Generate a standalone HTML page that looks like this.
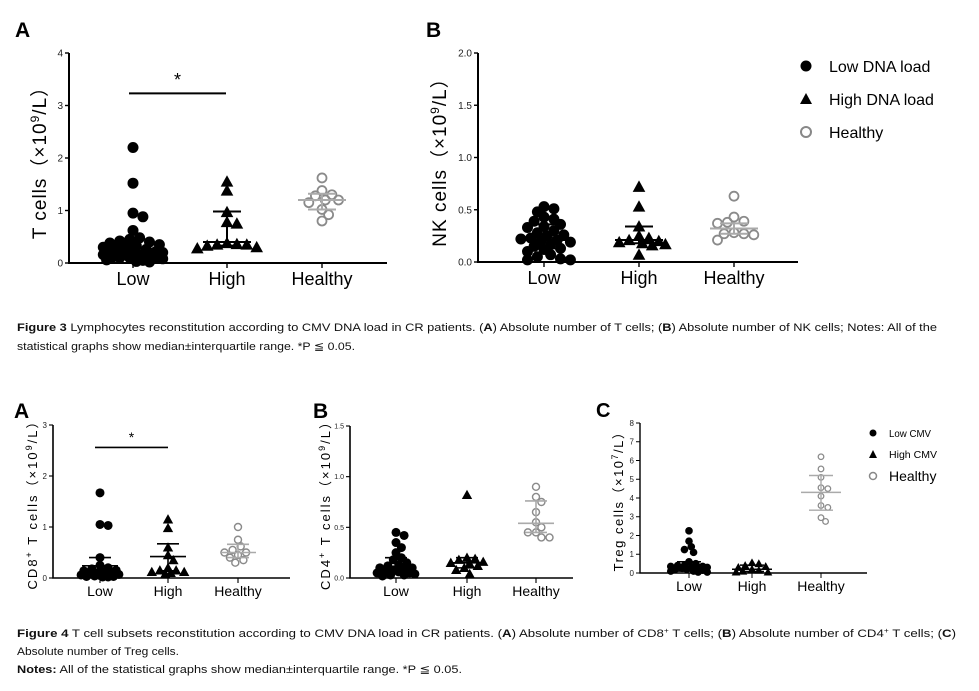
<!DOCTYPE html>
<html><head><meta charset="utf-8"><style>
html,body{margin:0;padding:0;background:#fff;}
svg{display:block;font-family:"Liberation Sans",sans-serif;}
</style></head><body>
<svg id="fig" width="979" height="691" viewBox="0 0 979 691" xmlns="http://www.w3.org/2000/svg">
<text x="15" y="37" font-size="21" font-weight="bold">A</text>
<text x="426" y="37" font-size="21" font-weight="bold">B</text>
<text x="14" y="418" font-size="21" font-weight="bold">A</text>
<text x="313" y="418" font-size="21" font-weight="bold">B</text>
<text x="596" y="417" font-size="20" font-weight="bold">C</text>

<g font-size="11" fill="#111">
<text x="17" y="331" textLength="920" lengthAdjust="spacingAndGlyphs"><tspan font-weight="bold">Figure 3</tspan> Lymphocytes reconstitution according to CMV DNA load in CR patients. (<tspan font-weight="bold">A</tspan>) Absolute number of T cells; (<tspan font-weight="bold">B</tspan>) Absolute number of NK cells; Notes: All of the</text>
<text x="17" y="350" textLength="338" lengthAdjust="spacingAndGlyphs">statistical graphs show median±interquartile range. *P ≦ 0.05.</text>
</g>
<g font-size="11" fill="#111">
<text x="17" y="637" textLength="939" lengthAdjust="spacingAndGlyphs"><tspan font-weight="bold">Figure 4</tspan> T cell subsets reconstitution according to CMV DNA load in CR patients. (<tspan font-weight="bold">A</tspan>) Absolute number of CD8<tspan font-size="7" dy="-4">+</tspan><tspan dy="4"> T cells; (</tspan><tspan font-weight="bold">B</tspan>) Absolute number of CD4<tspan font-size="7" dy="-4">+</tspan><tspan dy="4"> T cells; (</tspan><tspan font-weight="bold">C</tspan>)</text>
<text x="17" y="655" textLength="162" lengthAdjust="spacingAndGlyphs">Absolute number of Treg cells.</text>
<text x="17" y="673" textLength="445" lengthAdjust="spacingAndGlyphs"><tspan font-weight="bold">Notes:</tspan> All of the statistical graphs show median±interquartile range. *P ≦ 0.05.</text>
</g>

<g font-size="16">
<circle cx="806" cy="66" r="5.5" fill="#000"/><text x="829" y="72">Low DNA load</text>
<path d="M806,93 L812,104 L800,104 Z" fill="#000"/><text x="829" y="105">High DNA load</text>
<circle cx="806" cy="132" r="5" fill="none" stroke="#888" stroke-width="2"/><text x="829" y="138">Healthy</text>
</g>
<g>
<circle cx="873" cy="433" r="3.5" fill="#000"/><text x="889" y="437" font-size="10" textLength="42" lengthAdjust="spacingAndGlyphs">Low CMV</text>
<path d="M873,450 L877,458 L869,458 Z" fill="#000"/><text x="889" y="458" font-size="10" textLength="48" lengthAdjust="spacingAndGlyphs">High CMV</text>
<circle cx="873" cy="476" r="3.5" fill="none" stroke="#888" stroke-width="1.5"/><text x="889" y="481" font-size="14">Healthy</text>
</g>
</svg>
<script>
// ---- data ----
const categories = ["Low","High","Healthy"];
// Fig 3A T cells
const tLow = [2.2,1.52,0.95,0.88,0.62,0.48,0.45,0.42,0.4,0.38,0.35,0.33,0.3,0.28,0.26,0.25,0.22,0.2,0.18,0.16,0.14,0.12,0.1,0.1,0.08,0.06,0.05,0.03,0.02,0.15,0.3,0.2,0.1];
const tHigh = [1.55,1.38,0.97,0.78,0.75,0.38,0.36,0.35,0.33,0.3,0.28,0.35];
const tHealthy = [1.62,1.38,1.3,1.28,1.2,1.2,1.15,1.02,0.92,0.8];
const tStats = [[0.15,0.27,0.45],[0.33,0.4,0.98],[1.02,1.2,1.32]];
const tTicks = ["0","1","2","3","4"];
// Fig 3B NK cells
const nkLow = [0.53,0.51,0.48,0.43,0.41,0.39,0.36,0.34,0.33,0.3,0.28,0.26,0.25,0.23,0.22,0.21,0.2,0.19,0.17,0.15,0.13,0.12,0.1,0.07,0.05,0.03,0.02,0.02];
const nkHigh = [0.72,0.53,0.34,0.25,0.23,0.21,0.2,0.19,0.18,0.17,0.16,0.07];
const nkHealthy = [0.63,0.43,0.39,0.38,0.37,0.28,0.27,0.27,0.26,0.21];
const nkStats = [[0.13,0.21,0.36],[0.18,0.21,0.34],[0.27,0.32,0.37]];
const nkTicks = ["0.0","0.5","1.0","1.5","2.0"];
// Fig 4A CD8
const cd8Low = [1.67,1.05,1.03,0.4,0.25,0.2,0.15,0.12,0.1,0.08,0.06,0.05,0.04,0.03,0.02,0.1,0.05,0.07,0.02,0.03,0.14,0.18];
const cd8High = [1.15,0.98,0.6,0.45,0.35,0.2,0.15,0.15,0.12,0.12,0.1,0.08];
const cd8Healthy = [1.0,0.75,0.62,0.55,0.5,0.5,0.45,0.4,0.35,0.3];
const cd8Stats = [[0.05,0.24,0.4],[0.14,0.42,0.67],[0.4,0.5,0.66]];
const cd8Ticks = ["0","1","2","3"];
// Fig 4B CD4
const cd4Low = [0.45,0.42,0.35,0.3,0.25,0.2,0.18,0.15,0.12,0.1,0.08,0.07,0.05,0.04,0.03,0.02,0.05,0.1,0.03,0.06,0.13,0.09];
const cd4High = [0.82,0.2,0.19,0.18,0.16,0.15,0.14,0.12,0.1,0.08,0.04];
const cd4Healthy = [0.9,0.8,0.75,0.65,0.55,0.5,0.45,0.45,0.4,0.4];
const cd4Stats = [[0.04,0.1,0.2],[0.1,0.15,0.2],[0.45,0.54,0.76]];
const cd4Ticks = ["0.0","0.5","1.0","1.5"];
// Fig 4C Treg
const tregLow = [2.25,1.7,1.4,1.25,1.1,0.6,0.5,0.4,0.35,0.3,0.3,0.25,0.2,0.15,0.1,0.05,0.05,0.1,0.2,0.3,0.35,0.4];
const tregHigh = [0.55,0.5,0.4,0.35,0.3,0.2,0.15,0.1,0.05,0.05];
const tregHealthy = [6.2,5.55,5.1,4.55,4.5,4.1,3.6,3.5,2.95,2.75];
const tregStats = [[0.1,0.3,0.6],[0.08,0.2,0.42],[3.35,4.3,5.2]];
const tregTicks = ["0","1","2","3","4","5","6","7","8"];

const NS="http://www.w3.org/2000/svg";
const svg=document.getElementById('fig');
function mk(tag,attrs,parent){const e=document.createElementNS(NS,tag);for(const k in attrs)e.setAttribute(k,attrs[k]);(parent||svg).appendChild(e);return e;}

function panel(cfg){
  const g=mk('g',{});
  
  
  const ymax=parseFloat(cfg.ticks[cfg.ticks.length-1]);
  const yS=v=>cfg.y0-(v/ymax)*(cfg.y0-cfg.yTop);
  const xS=i=>cfg.cx[i];
  const ax=mk('path',{d:`M${cfg.ax},${cfg.yTop} L${cfg.ax},${cfg.y0} L${cfg.xEnd},${cfg.y0}`,fill:'none',stroke:'#000','stroke-width':cfg.lw},g);
  
  
  cfg.ticks.forEach(t=>{
    const y=yS(parseFloat(t));
    mk('line',{x1:cfg.ax-4,x2:cfg.ax,y1:y,y2:y,stroke:'#000','stroke-width':cfg.lw*0.7},g);
    const tx=mk('text',{x:cfg.ax-6,y:y+cfg.tfs*0.35,'font-size':cfg.tfs,'text-anchor':'end',fill:'#222'},g);
    tx.textContent=t;
    
    
  });
  categories.forEach((c,i)=>{
    mk('line',{x1:xS(i),x2:xS(i),y1:cfg.y0,y2:cfg.y0+5,stroke:'#000','stroke-width':cfg.lw*0.7},g);
    const tx=mk('text',{x:xS(i),y:cfg.y0+cfg.cfs+4,'font-size':cfg.cfs,'text-anchor':'middle'},g);
    tx.textContent=c;
    
    
  });
  const yt=mk('text',{transform:`translate(${cfg.ytx},${(cfg.y0+cfg.yTop)/2}) rotate(-90)`,'font-size':cfg.yfs,'text-anchor':'middle','letter-spacing':cfg.ls||0},g);
  yt.innerHTML=cfg.ytitle;
  
  
  const r=cfg.r;
  cfg.series.forEach((vals,i)=>{
    const placed=[];
    const sorted=vals.slice().sort((a,b)=>b-a);
    const maxS=cfg.spread[i];
    sorted.forEach(v=>{
      const y=yS(v);
      let best=0,bestD=-1;
      for(let k=0;k<80;k++){
        const o=(k===0?0:(k%2?1:-1)*Math.ceil(k/2))*r*0.6;
        if(Math.abs(o)>maxS) break;
        const d=placed.length?Math.min(...placed.map(p=>Math.hypot(p[0]-(xS(i)+o),p[1]-y))):1e9;
        if(d>=r*1.5){best=o;bestD=d;break;}
        if(d>bestD){bestD=d;best=o;}
      }
      const x=xS(i)+best;placed.push([x,y]);
      let m;
      if(i===0) m=mk('circle',{cx:x,cy:y,r:r,fill:'#000'},g);
      else if(i===1){const s=r*1.15;m=mk('path',{d:`M${x},${y-s} L${x+s},${y+s*0.8} L${x-s},${y+s*0.8} Z`,fill:'#000'},g);}
      else m=mk('circle',{cx:x,cy:y,r:r-1,fill:'none',stroke:'#8a8a8a','stroke-width':cfg.lw*0.9},g);
      
      
    });
  });
  cfg.stats.forEach((s,i)=>{
    const col=i===2?'#aaa':'#000';const x=xS(i);
    const eb=mk('g',{stroke:col,'stroke-width':cfg.lw},g);
    
    
    mk('line',{x1:x,x2:x,y1:yS(s[0]),y2:yS(s[2])},eb);
    mk('line',{x1:x-cfg.mw,x2:x+cfg.mw,y1:yS(s[1]),y2:yS(s[1])},eb);
    mk('line',{x1:x-cfg.qw,x2:x+cfg.qw,y1:yS(s[0]),y2:yS(s[0])},eb);
    mk('line',{x1:x-cfg.qw,x2:x+cfg.qw,y1:yS(s[2]),y2:yS(s[2])},eb);
  });
  if(cfg.sig){
    const sy=yS(cfg.sig[2]);
    const l=mk('line',{x1:cfg.sig[0],x2:cfg.sig[1],y1:sy,y2:sy,stroke:'#000','stroke-width':cfg.lw},g);
    
    
    const st=mk('text',{x:(cfg.sig[0]+cfg.sig[1])/2,y:sy-cfg.cfs*0.4,'font-size':cfg.cfs,'text-anchor':'middle'},g);
    st.textContent='*';
    
    
  }
}

panel({name:'t-cells-chart',ticks:tTicks,y0:263,yTop:53,ax:69,xEnd:387,cx:[133,227,322],series:[tLow,tHigh,tHealthy],stats:tStats,
  r:5.5,lw:2,tfs:10,cfs:18,yfs:19,ytx:46,ls:1,mw:24,qw:14,sig:[129,226,3.23],spread:[30,30,24],
  ytitle:'T cells（×10<tspan font-size="12" dy="-7">9</tspan><tspan dy="7">/L）</tspan>'});
panel({name:'nk-cells-chart',ticks:nkTicks,y0:262,yTop:53,ax:478,xEnd:798,cx:[544,639,734],series:[nkLow,nkHigh,nkHealthy],stats:nkStats,
  r:5.5,lw:2,tfs:10,cfs:18,yfs:19,ytx:446,ls:1,mw:24,qw:14,spread:[28,28,26],
  ytitle:'NK cells（×10<tspan font-size="12" dy="-7">9</tspan><tspan dy="7">/L）</tspan>'});
panel({name:'cd8-cells-chart',ticks:cd8Ticks,y0:578,yTop:425,ax:53,xEnd:290,cx:[100,168,238],series:[cd8Low,cd8High,cd8Healthy],stats:cd8Stats,
  r:4.5,lw:1.6,tfs:8,cfs:14,yfs:13,ytx:37,ls:2,mw:18,qw:11,sig:[95,168,2.56],spread:[20,20,18],
  ytitle:'CD8<tspan font-size="9" dy="-5">+</tspan><tspan dy="5"> T cells（×10</tspan><tspan font-size="9" dy="-5">9</tspan><tspan dy="5">/L）</tspan>'});
panel({name:'cd4-cells-chart',ticks:cd4Ticks,y0:578,yTop:426,ax:350,xEnd:573,cx:[396,467,536],series:[cd4Low,cd4High,cd4Healthy],stats:cd4Stats,
  r:4.5,lw:1.6,tfs:7,cfs:14,yfs:13,ytx:330,ls:2,mw:18,qw:11,spread:[20,20,18],
  ytitle:'CD4<tspan font-size="9" dy="-5">+</tspan><tspan dy="5"> T cells（×10</tspan><tspan font-size="9" dy="-5">9</tspan><tspan dy="5">/L）</tspan>'});
panel({name:'treg-cells-chart',ticks:tregTicks,y0:573,yTop:423,ax:640,xEnd:867,cx:[689,752,821],series:[tregLow,tregHigh,tregHealthy],stats:tregStats,
  r:3.8,lw:1.4,tfs:8,cfs:14,yfs:13,ytx:623,ls:1.5,mw:20,qw:12,spread:[20,18,16],
  ytitle:'Treg cells（×10<tspan font-size="9" dy="-5">7</tspan><tspan dy="5">/L）</tspan>'});
</script>
</body></html>
